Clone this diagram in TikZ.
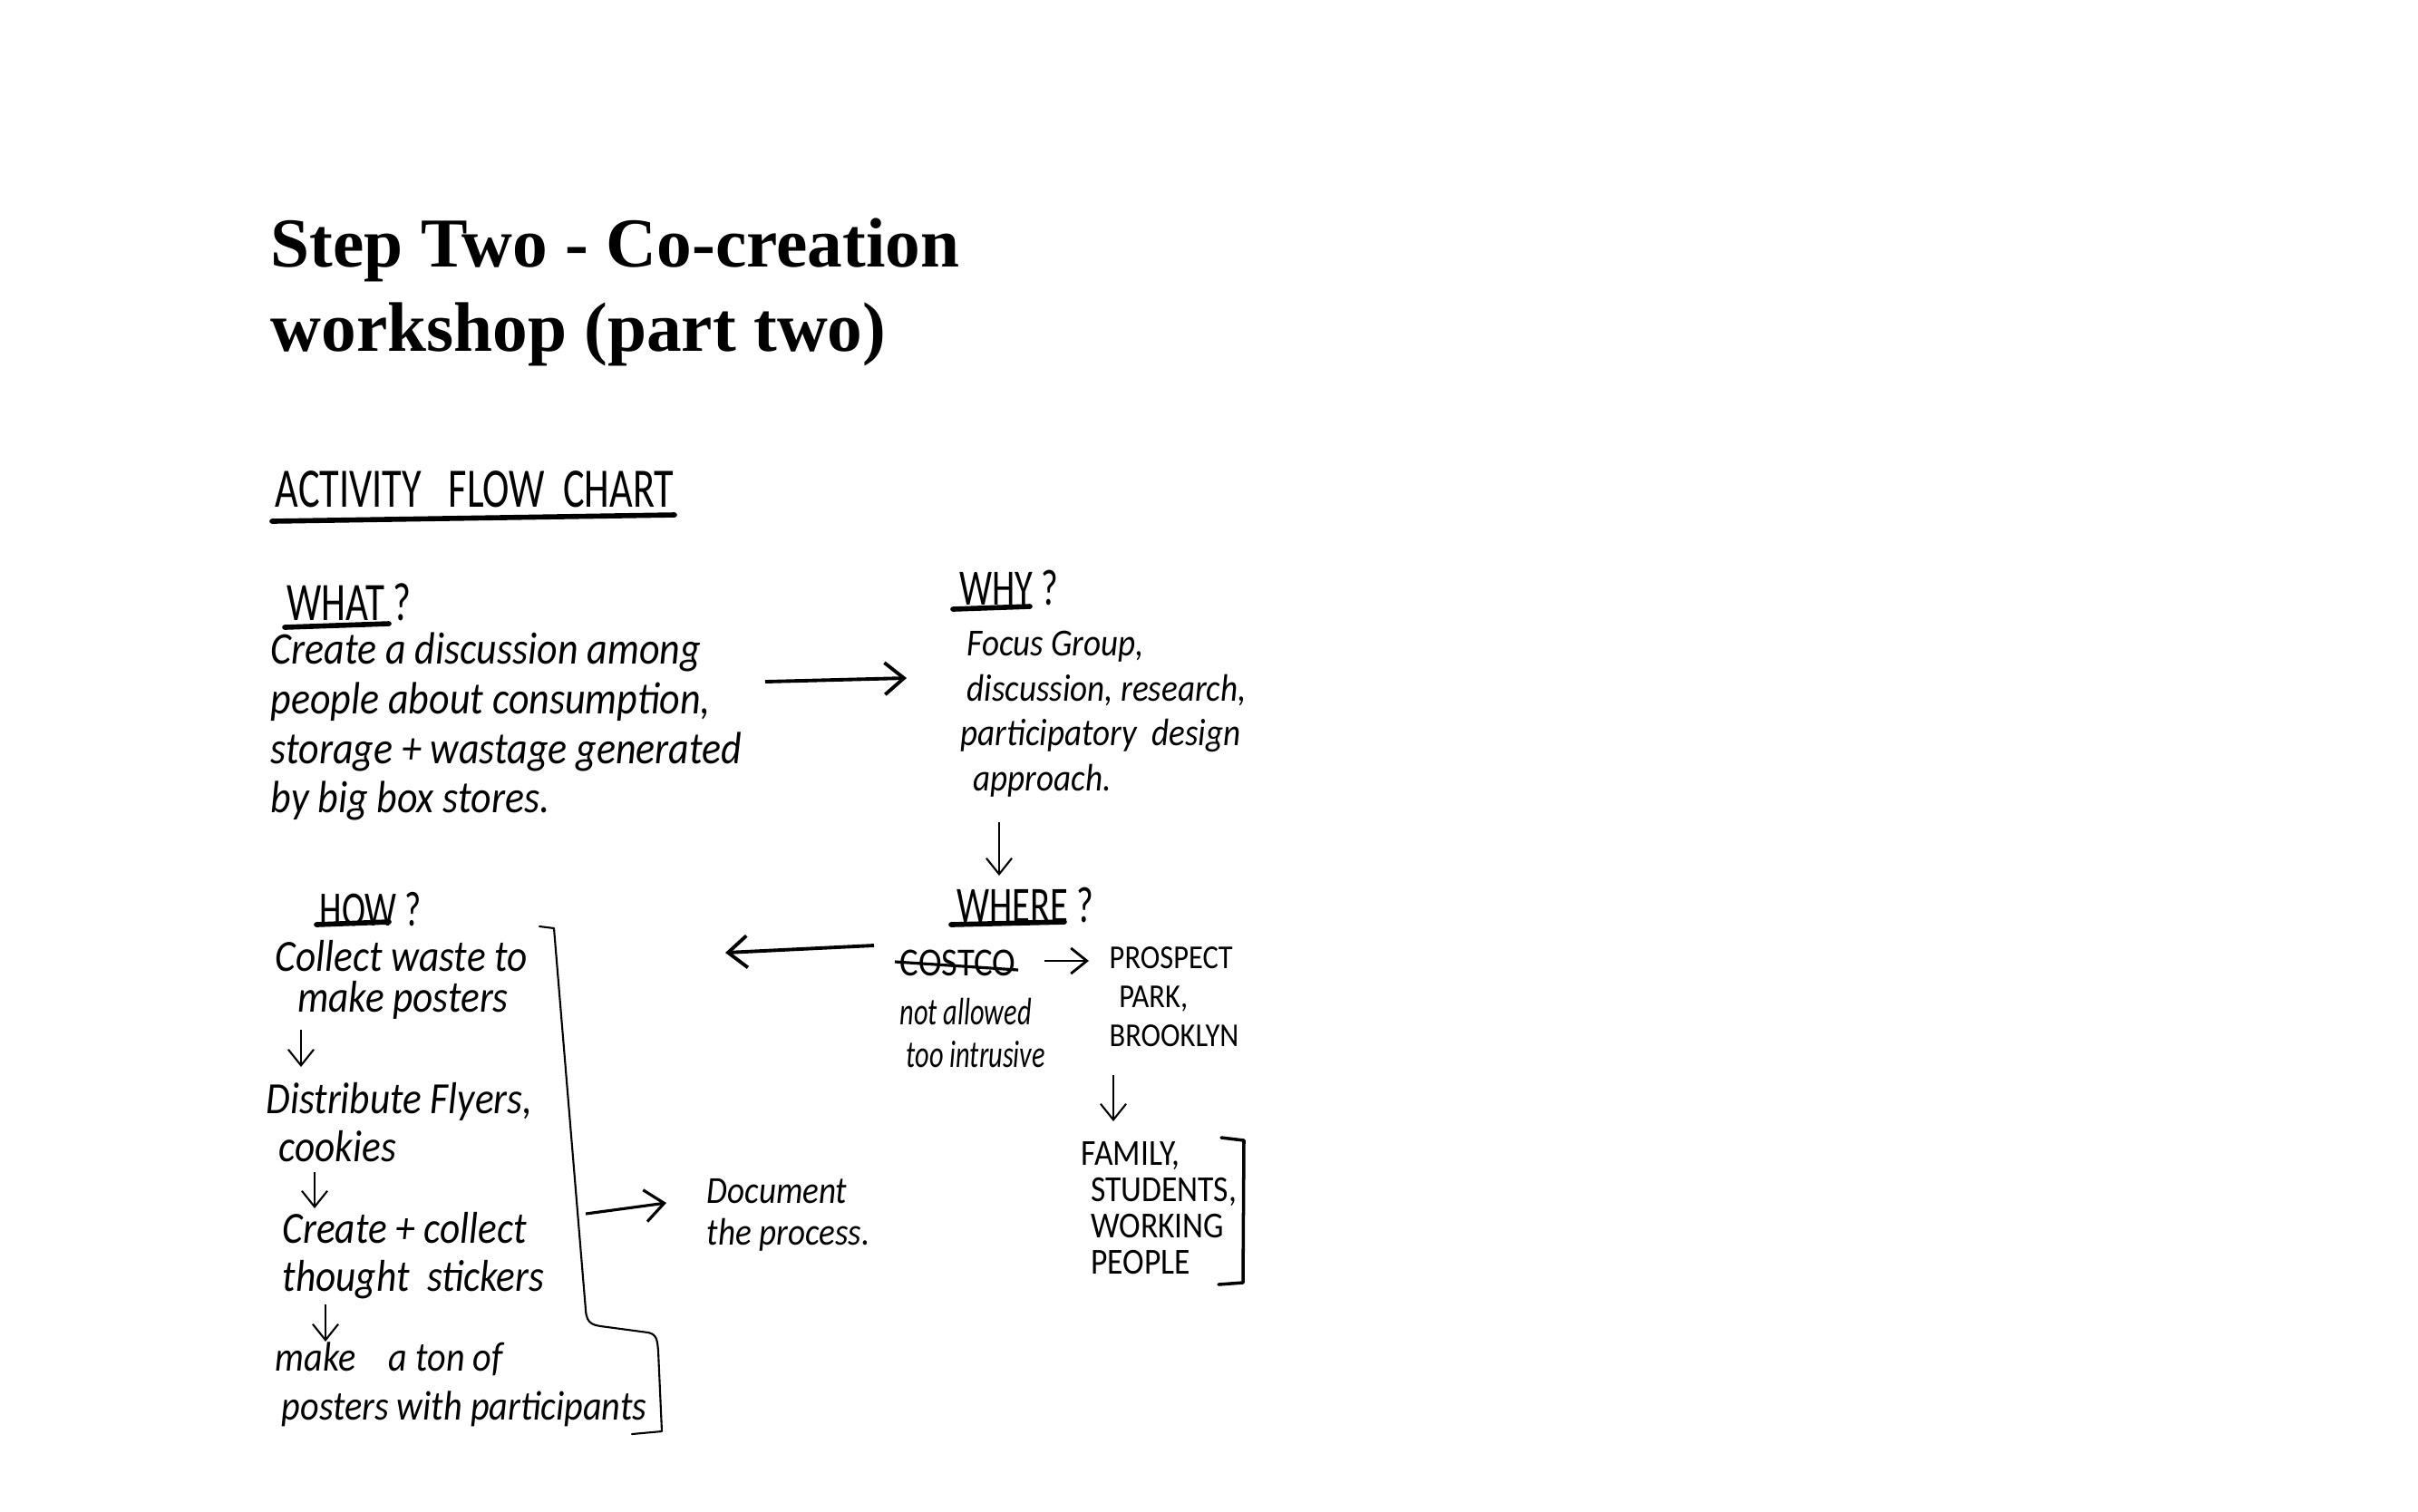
\documentclass[tikz,border=0pt]{standalone}
\usepackage{fontspec}
\setmainfont{Liberation Serif}
\newfontfamily\handfont[FakeStretch=0.88]{Carlito}
\newfontfamily\handnarrow[FakeStretch=0.72]{Carlito}
\usetikzlibrary{arrows.meta}
\usetikzlibrary{calc}

\tikzset{
  handtext/.style={font=\handfont\itshape\fontsize{14}{15}\selectfont, anchor=north west, inner sep=0pt, align=left},
  capstext/.style={font=\handfont\fontsize{10.5}{12.2}\selectfont, anchor=north west, inner sep=0pt, align=left},
  headtext/.style={font=\handnarrow\fontsize{16}{18}\selectfont, anchor=north west, inner sep=0pt},
  flowarrow/.style={line width=1.1pt, -{Straight Barb[length=6pt,width=10pt]}},
  thinarrow/.style={line width=0.6pt, -{Straight Barb[length=5pt,width=8pt]}},
  underln/.style={line width=1.6pt, line cap=round},
  bracketln/.style={line width=0.6pt, line cap=round, line join=round},
}

\begin{document}
\begin{tikzpicture}
  \useasboundingbox (0,0) rectangle (26.67,-16.67);

  % title
  \node[anchor=north west, inner sep=0pt, align=left,
        font=\bfseries\fontsize{22}{26.5}\selectfont] (title) at (2.98,-2.40)
        {Step Two - Co-creation\\workshop (part two)};

  \node[headtext, font=\handnarrow\fontsize{17.5}{20}\selectfont] (chart) at (3.03,-5.19)
        {ACTIVITY\ \ \ FLOW\ \ CHART};
  \draw[underln] (3.00,-5.75) -- (7.44,-5.68);

  % headings
  \node[headtext, font=\handnarrow\fontsize{17}{18}\selectfont] (whatq) at (3.16,-6.43) {WHAT ?};
  \draw[underln] (3.14,-6.92) -- (4.29,-6.88);
  \node[headtext] (whyq) at (10.58,-6.28) {WHY ?};
  \draw[underln] (10.51,-6.72) -- (11.36,-6.69);
  \node[headtext] (whereq) at (10.55,-9.78) {WHERE ?};
  \draw[underln] (10.49,-10.20) -- (11.74,-10.17);
  \node[headtext, font=\handnarrow\fontsize{15.5}{18}\selectfont] (howq) at (3.52,-9.84) {HOW ?};
  \draw[underln] (3.49,-10.20) -- (4.29,-10.17);

  % what / why
  \node[handtext, font=\handfont\itshape\fontsize{14.2}{15.6}\selectfont] (what) at (2.98,-6.97)
        {Create\ a discussion among\\people about\ consumption,\\storage + wastage generated\\by big box stores.};
  \node[handtext, font=\handfont\itshape\fontsize{12}{14.2}\selectfont] (why) at (10.66,-6.95)
        {Focus Group,\\discussion, research,\\\hspace{-2pt}participatory\ \ design\\\hspace{2pt}approach.};

  % where
  \node[capstext, font=\handfont\fontsize{12.5}{14}\selectfont] (costco) at (9.92,-10.47) {COSTCO};
  \draw[line width=0.9pt] (9.87,-10.61) -- (11.23,-10.70);
  \node[handtext, font=\handnarrow\itshape\fontsize{12}{13.6}\selectfont] (notok) at (9.92,-11.00)
        {not allowed\\\hspace{2pt}too intrusive};
  \node[capstext] (park) at (12.23,-10.44) {PROSPECT\\\hspace{3pt}PARK,\\BROOKLYN};
  \node[capstext, font=\handfont\fontsize{11.5}{11.4}\selectfont] (people) at (11.92,-12.59)
        {FAMILY,\\\hspace{3pt}STUDENTS,\\\hspace{3pt}WORKING\\\hspace{3pt}PEOPLE};
  \draw[bracketln, line width=1pt] (13.47,-12.55) -- (13.72,-12.58) -- (13.71,-14.15) -- (13.44,-14.17);

  % how
  \node[handtext, font=\handfont\itshape\fontsize{14}{12.8}\selectfont] (collect) at (3.03,-10.37)
        {Collect waste to\\\hspace{7pt}make posters};
  \node[handtext] (distrib) at (2.93,-11.94)
        {Distribute Flyers,\\\hspace{4pt}cookies};
  \node[handtext] (createc) at (3.11,-13.37)
        {Create + collect\\thought\ \ stickers};
  \node[handtext, font=\handfont\itshape\fontsize{13}{15.5}\selectfont] (maketon) at (3.03,-14.80)
        {make\ \ \ \ a ton of\\\hspace{2pt}posters with participants};
  \node[handtext, font=\handfont\itshape\fontsize{12}{13}\selectfont] (doc) at (7.79,-13.00)
        {Document\\the process.};
  \draw[bracketln] (5.95,-10.22) -- (6.11,-10.24) -- (6.46,-14.45)
        .. controls (6.47,-14.62) and (6.55,-14.62) .. (6.70,-14.64) -- (7.15,-14.70)
        .. controls (7.25,-14.72) and (7.25,-14.80) .. (7.26,-14.90) -- (7.30,-15.79) -- (6.97,-15.82);

  % arrow ends
  \coordinate (what-out) at (8.44,-7.52);
  \coordinate (why-in) at (10.00,-7.48);
  \coordinate (why-out) at (11.02,-9.07);
  \coordinate (where-in) at (11.02,-9.66);
  \coordinate (where-out) at (9.64,-10.43);
  \coordinate (how-in) at (8.00,-10.51);
  \coordinate (costco-out) at (11.52,-10.60);
  \coordinate (park-in) at (12.01,-10.60);
  \coordinate (park-out) at (12.28,-11.86);
  \coordinate (people-in) at (12.28,-12.37);
  \coordinate (collect-out) at (3.32,-11.36);
  \coordinate (distrib-in) at (3.32,-11.77);
  \coordinate (distrib-out) at (3.47,-12.93);
  \coordinate (createc-in) at (3.47,-13.33);
  \coordinate (createc-out) at (3.59,-14.39);
  \coordinate (maketon-in) at (3.59,-14.80);
  \coordinate (steps-out) at (6.46,-13.39);
  \coordinate (doc-in) at (7.35,-13.27);

  \draw[flowarrow] (what-out) -- (why-in);
  \draw[thinarrow] (why-out) -- (where-in);
  \draw[flowarrow] (where-out) -- (how-in);
  \draw[thinarrow, line width=0.8pt] (costco-out) -- (park-in);
  \draw[thinarrow] (park-out) -- (people-in);
  \draw[thinarrow] (collect-out) -- (distrib-in);
  \draw[thinarrow] (distrib-out) -- (createc-in);
  \draw[thinarrow] (createc-out) -- (maketon-in);
  \draw[flowarrow, line width=0.9pt] (steps-out) -- (doc-in);
\end{tikzpicture}
\end{document}
